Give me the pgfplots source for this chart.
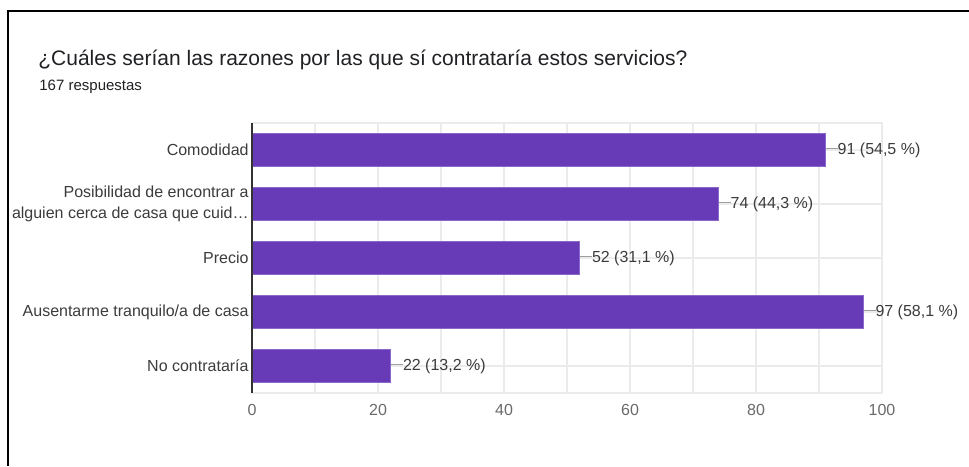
\documentclass[border=0pt]{standalone}
\usepackage{fontspec}
\setmainfont{Liberation Sans}
\usepackage{pgfplots}
\pgfplotsset{compat=1.18}
\definecolor{barpurple}{HTML}{673AB7}
\definecolor{baredge}{HTML}{8A68C9}
\definecolor{gridgray}{HTML}{EBEBEB}
\definecolor{titlegray}{HTML}{202124}
\definecolor{labelgray}{HTML}{3C3C3C}
\definecolor{tickgray}{HTML}{6A6A6A}
\definecolor{leadgray}{HTML}{9E9E9E}
\definecolor{axisdark}{HTML}{333333}
\begin{document}
\begin{tikzpicture}
\useasboundingbox (0pt,0pt) rectangle (484.5pt,-233pt);
\fill[white] (0pt,0pt) rectangle (484.5pt,-233pt);
\draw[black,line width=1pt] (4pt,-233pt) -- (4pt,-5.25pt) -- (484.5pt,-5.25pt);
\node[anchor=base west,inner sep=0pt,text=titlegray,font=\fontsize{10.5}{12}\selectfont] at (19pt,-32.5pt) {¿Cuáles serían las razones por las que sí contrataría estos servicios?};
\node[anchor=base west,inner sep=0pt,text=titlegray,font=\fontsize{7.5}{9}\selectfont] at (19.5pt,-45pt) {167 respuestas};
\begin{axis}[
  at={(126pt,-196.5pt)}, anchor=south west,
  scale only axis, width=315pt, height=135pt,
  xbar, bar width=16.5pt,
  xmin=0, xmax=100, ymin=0.5, ymax=5.5, y dir=reverse,
  ytick={1,2,3,4,5},
  yticklabels={Comodidad,{Posibilidad de encontrar a\\alguien cerca de casa que cuid…},Precio,Ausentarme tranquilo/a de casa,No contrataría},
  yticklabel style={align=right,inner sep=0pt,xshift=-1.5pt,text=labelgray,font=\fontsize{8}{10.5}\selectfont},
  xtick={0,20,40,60,80,100},
  minor xtick={10,30,50,70,90},
  xticklabel style={inner sep=0pt,yshift=-5.5pt,text=tickgray,font=\fontsize{8}{9}\selectfont},
  /pgf/number format/assume math mode=true,
  major tick length=0pt, minor tick length=0pt,
  grid=both,
  major grid style={draw=gridgray,line width=0.6pt},
  minor grid style={draw=gridgray,line width=0.6pt},
  axis line style={draw=gridgray,line width=0.6pt},
  clip=false,
  point meta=explicit symbolic,
  nodes near coords={\textcolor{leadgray}{\rule[0.3em]{6pt}{0.5pt}}\pgfplotspointmeta},
  every node near coord/.append style={anchor=west,inner sep=0pt,text=labelgray,font=\fontsize{8}{9}\selectfont},
]
\addplot[fill=barpurple,draw=baredge,line width=0.4pt] coordinates {
  (91,1) [91 (54,5 \%)]
  (74,2) [74 (44,3 \%)]
  (52,3) [52 (31,1 \%)]
  (97,4) [97 (58,1 \%)]
  (22,5) [22 (13,2 \%)]
};
\draw[axisdark,line width=0.7pt] (axis cs:0,0.5) -- (axis cs:0,5.5);
\end{axis}
\end{tikzpicture}
\end{document}
